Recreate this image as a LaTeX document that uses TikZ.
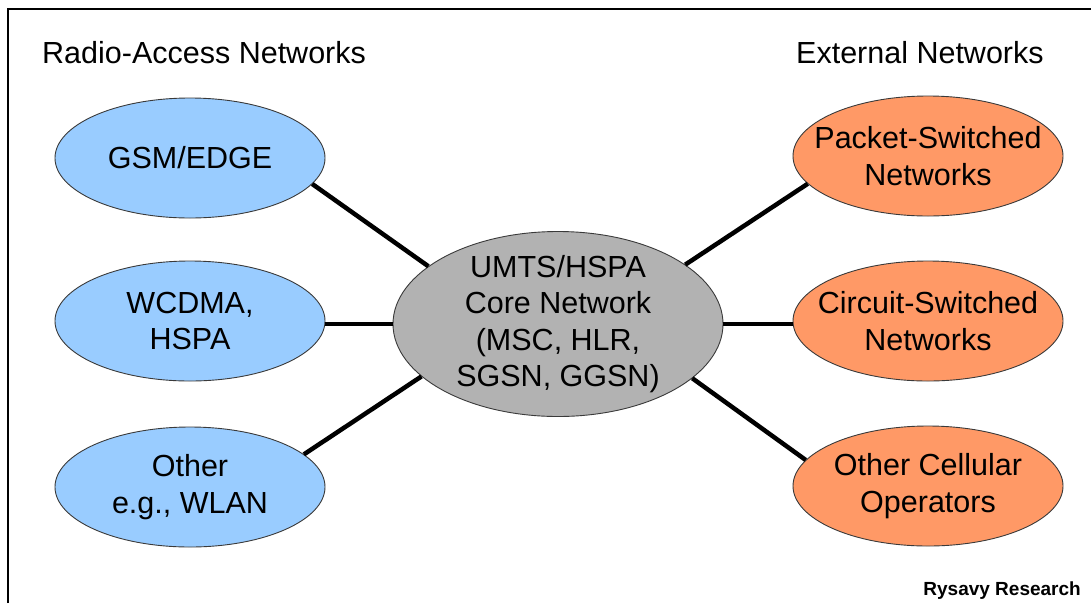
\documentclass[tikz,border=0pt]{standalone}
\usepackage{fontspec}
\setmainfont{Liberation Sans}
\usepackage{tikz}
\usetikzlibrary{positioning,shapes.geometric}
\definecolor{ink}     {HTML}{000000}
\definecolor{rim}     {HTML}{3A3A3A}
\definecolor{radio}   {HTML}{99CCFF}
\definecolor{extnet}  {HTML}{FF9966}
\definecolor{corenet} {HTML}{B2B2B2}
\tikzset{
  % --- nodes
  net/.style    = {ellipse, draw=rim, line width=0.9pt, align=center, text=ink,
                   inner xsep=-40pt, inner ysep=-20pt,
                   minimum width=270pt, minimum height=120pt,
                   font=\fontsize{30.5}{36.5}\selectfont},
  ran/.style    = {net, fill=radio},
  ext/.style    = {net, fill=extnet},
  hub/.style    = {net, fill=corenet, minimum width=330pt, minimum height=185pt},
  head/.style   = {inner sep=0pt, font=\fontsize{30.5}{36}\selectfont},
  credit/.style = {inner sep=0pt, font=\fontsize{19}{22}\selectfont\bfseries},
  % --- edges
  link/.style   = {line width=4.5pt, draw=ink},
}
\begin{document}
\begin{tikzpicture}[x=1pt,y=-1pt]
  \useasboundingbox (0,0) rectangle (1091,603);
  % frame, cut at right and bottom
  \draw[line width=1.6pt, draw=ink] (8,603) -- (8,9) -- (1091,9);
  % headings
  \node[head, anchor=base west] (ranhead) at (42,63) {Radio-Access Networks};
  \node[head, anchor=base west] (exthead) at (796,63) {External Networks};
  % radio-access side
  \node[ran] (gsm)   at (190,158) {GSM/EDGE};
  \node[ran] (wcdma) at (190,321) {WCDMA,\\HSPA};
  \node[ran] (other) at (190,487) {Other\\e.g., WLAN};
  % core
  \node[hub] (core)  at (558,324) {UMTS/HSPA\\Core Network\\(MSC, HLR,\\SGSN, GGSN)};
  % external side
  \node[ext] (pkt)   at (928,156) {Packet-Switched\\Networks};
  \node[ext] (circ)  at (928,321) {Circuit-Switched\\Networks};
  \node[ext] (oper)  at (928,486) {Other Cellular\\Operators};
  % links
  \draw[link] (gsm.-12)   -- (core.156);
  \draw[link] (wcdma.east |- core.west) -- (core.west);
  \draw[link] (other.16)  -- (core.-159);
  \draw[link] (core.25)   -- (pkt.-167);
  \draw[link] (core.east) -- (circ.west |- core.east);
  \draw[link] (core.-22)  -- (oper.168);
  % credit
  \node[credit, anchor=base east] (rysavy) at (1081,595) {Rysavy Research};
\end{tikzpicture}
\end{document}
